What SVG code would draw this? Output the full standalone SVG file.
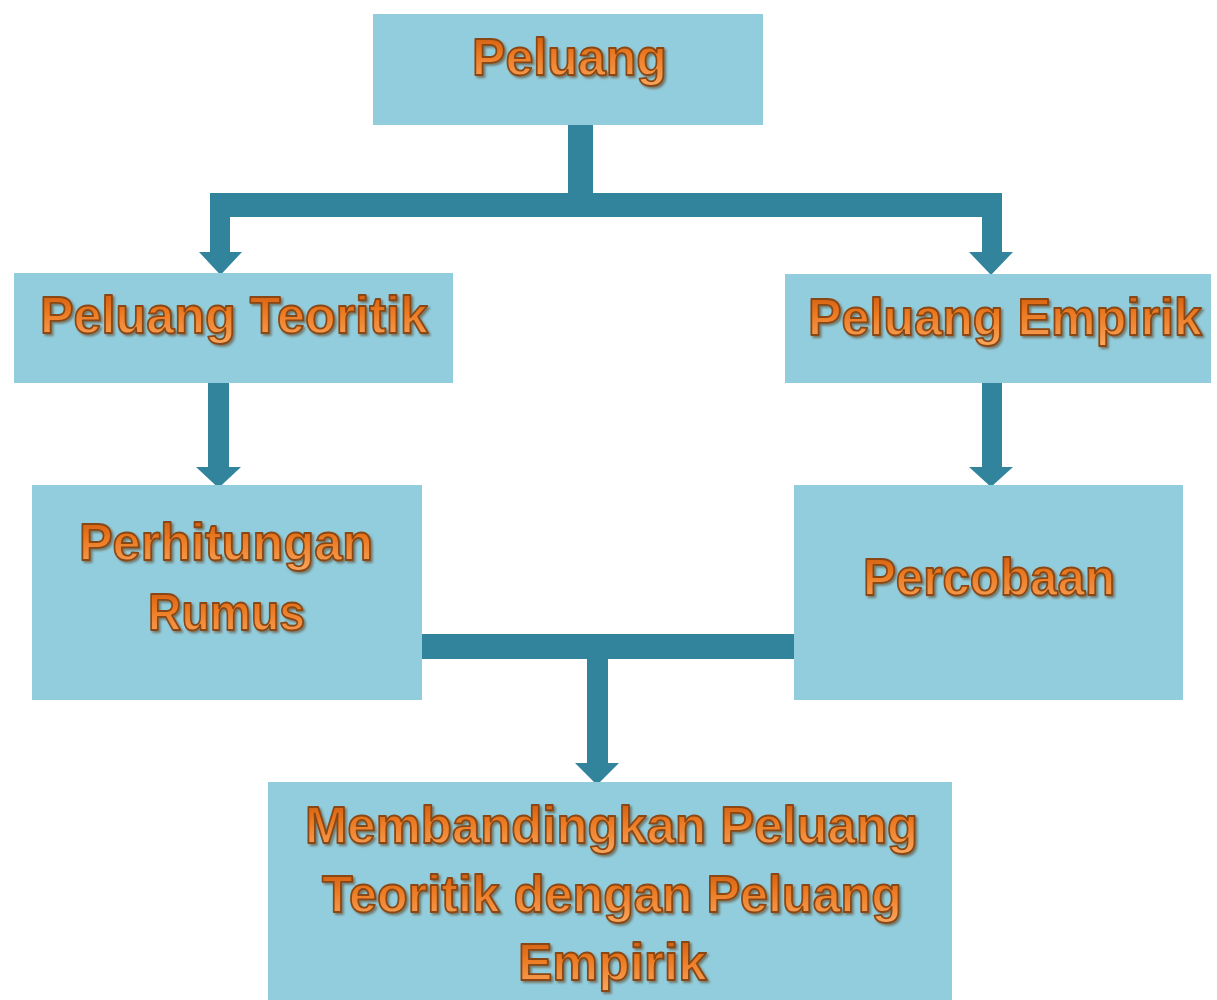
<svg xmlns="http://www.w3.org/2000/svg" width="1217" height="1000" viewBox="0 0 1217 1000">
  <defs>
    <linearGradient id="txtFill" x1="0" y1="0" x2="0" y2="1">
      <stop offset="0" stop-color="#c8560c"/>
      <stop offset="0.45" stop-color="#ec7a22"/>
      <stop offset="1" stop-color="#f9a65e"/>
    </linearGradient>
    <filter id="txtShadow" x="-5%" y="-20%" width="110%" height="150%">
      <feGaussianBlur in="SourceAlpha" stdDeviation="1.2"/>
      <feOffset dx="1.5" dy="2" result="s"/>
      <feFlood flood-color="#5a3a1a" flood-opacity="0.55"/>
      <feComposite in2="s" operator="in"/>
      <feMerge>
        <feMergeNode/>
        <feMergeNode in="SourceGraphic"/>
      </feMerge>
    </filter>
  </defs>
  <style>
    .box { fill: #92cddd; }
    .lbl { font-family: "Liberation Sans", Arial, sans-serif; font-weight: bold; font-size: 52px;
           fill: url(#txtFill); stroke: #8a4713; stroke-width: 1.8; stroke-linejoin: round;
           filter: url(#txtShadow); }
    .conn { fill: #31849b; }
  </style>

  <rect width="1217" height="1000" fill="#ffffff"/>

  <!-- connectors -->
  <g id="connectors">
    <!-- top T: stem, bar, two drops with heads -->
    <rect class="conn" x="568" y="125" width="25" height="92"/>
    <rect class="conn" x="210" y="193" width="792" height="24"/>
    <rect class="conn" x="210" y="193" width="20" height="60"/>
    <polygon class="conn" points="199,252 242,252 220.5,275"/>
    <rect class="conn" x="982" y="193" width="20" height="60"/>
    <polygon class="conn" points="969,252 1013,252 991,275"/>
    <!-- level 2 to level 3 -->
    <rect class="conn" x="208" y="383" width="21" height="85"/>
    <polygon class="conn" points="196,467 241,467 218.5,488"/>
    <rect class="conn" x="982" y="383" width="20" height="85"/>
    <polygon class="conn" points="969,467 1013,467 991,487"/>
    <!-- join into final box -->
    <rect class="conn" x="420" y="634" width="376" height="25"/>
    <rect class="conn" x="587" y="658" width="21" height="106"/>
    <polygon class="conn" points="575,763 619,763 597,785"/>
  </g>

  <g id="node-peluang">
    <rect class="box" x="373" y="14" width="390" height="111"/>
    <text class="lbl" x="472" y="75" textLength="195" lengthAdjust="spacingAndGlyphs">Peluang</text>
  </g>

  <g id="node-teoritik">
    <rect class="box" x="14" y="273" width="439" height="110"/>
    <text class="lbl" x="40" y="333" textLength="388" lengthAdjust="spacingAndGlyphs">Peluang Teoritik</text>
  </g>

  <g id="node-empirik">
    <rect class="box" x="785" y="274" width="426" height="109"/>
    <text class="lbl" x="808" y="335" textLength="394" lengthAdjust="spacingAndGlyphs">Peluang Empirik</text>
  </g>

  <g id="node-perhitungan">
    <rect class="box" x="32" y="485" width="390" height="215"/>
    <text class="lbl" x="79" y="560" textLength="294" lengthAdjust="spacingAndGlyphs">Perhitungan</text>
    <text class="lbl" x="148" y="630" textLength="157" lengthAdjust="spacingAndGlyphs">Rumus</text>
  </g>

  <g id="node-percobaan">
    <rect class="box" x="794" y="485" width="389" height="215"/>
    <text class="lbl" x="863" y="595" textLength="252" lengthAdjust="spacingAndGlyphs">Percobaan</text>
  </g>

  <g id="node-membandingkan">
    <rect class="box" x="268" y="782" width="684" height="218"/>
    <text class="lbl" x="305" y="843" textLength="613" lengthAdjust="spacingAndGlyphs">Membandingkan Peluang</text>
    <text class="lbl" x="322" y="912" textLength="580" lengthAdjust="spacingAndGlyphs">Teoritik dengan Peluang</text>
    <text class="lbl" x="518" y="980" textLength="189" lengthAdjust="spacingAndGlyphs">Empirik</text>
  </g>
</svg>
